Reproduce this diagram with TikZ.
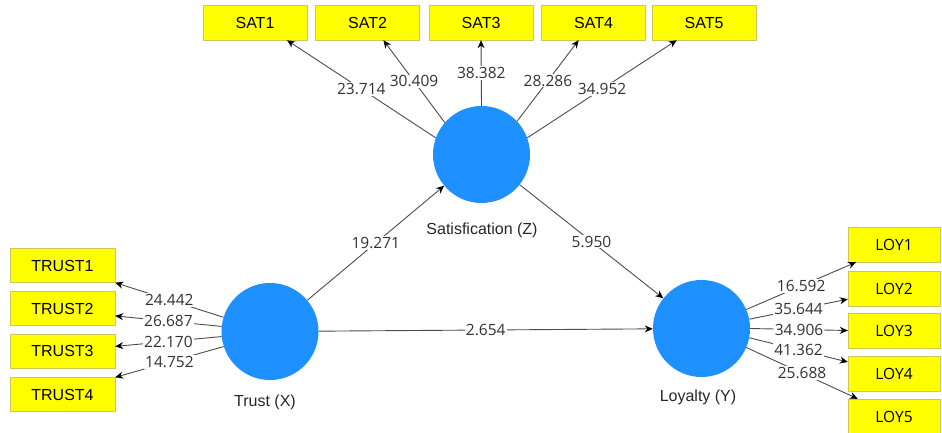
\documentclass[tikz,border=0pt]{standalone}
\usepackage{fontspec}
\setmainfont{Liberation Sans}
\newfontfamily\segoelike{Open Sans}
\usetikzlibrary{arrows.meta, positioning}
\definecolor{lvblue}{RGB}{30,144,255}
\definecolor{mvyellow}{RGB}{255,255,0}
\tikzset{
    latent/.style={
        circle,
        fill=lvblue,
        draw=none,
        minimum size=97pt,
        inner sep=0pt
    },
    indicator/.style={
        rectangle,
        draw=yellow!55!gray,
        fill=mvyellow,
        minimum width=104pt,
        minimum height=35pt,
        font=\fontsize{16}{18}\selectfont
    },
    loading/.style={
        draw=black!70,
        line width=0.9pt,
        -{Stealth[length=8pt, width=7pt, black]}
    },
    tvalue/.style={
        fill=white,
        inner sep=1pt,
        text=black!80,
        font=\segoelike\fontsize{15.5}{17}\selectfont
    },
    lvname/.style={
        text=black!85,
        font=\fontsize{16}{18}\selectfont
    }
}

\begin{document}
\begin{tikzpicture}[x=1pt, y=-1pt]
\useasboundingbox (0,0) rectangle (942,433);

% Latent variables
\node[latent] (trust) at (270,331.5) {};
\node[latent] (sat) at (481.5,154.5) {};
\node[latent] (loy) at (701.5,328.5) {};
\node[lvname] (trustname) at (265,402) {Trust (X)};
\node[lvname] (satname) at (482,230) {Satisfication (Z)};
\node[lvname] (loyname) at (698,397) {Loyalty (Y)};

% Satisfaction indicators
\node[indicator] (sat1) at (255,22.5) {SAT1};
\node[indicator] (sat2) at (367.5,22.5) {SAT2};
\node[indicator] (sat3) at (481,22.5) {SAT3};
\node[indicator] (sat4) at (593.5,22.5) {SAT4};
\node[indicator] (sat5) at (704,22.5) {SAT5};

% Trust indicators
\node[indicator, minimum width=105pt, minimum height=34pt] (trust1) at (62.5,265.5) {TRUST1};
\node[indicator, minimum width=105pt, minimum height=34pt] (trust2) at (62.5,308.5) {TRUST2};
\node[indicator, minimum width=105pt, minimum height=34pt] (trust3) at (62.5,351) {TRUST3};
\node[indicator, minimum width=105pt, minimum height=34pt] (trust4) at (62.5,394.5) {TRUST4};

% Loyalty indicators
\node[indicator, minimum width=92pt, font=\segoelike\fontsize{15.5}{17}\selectfont] (loy1) at (894,244.5) {LOY1};
\node[indicator, minimum width=92pt, font=\segoelike\fontsize{15.5}{17}\selectfont] (loy2) at (894,288.5) {LOY2};
\node[indicator, minimum width=92pt, font=\segoelike\fontsize{15.5}{17}\selectfont] (loy3) at (894,330.5) {LOY3};
\node[indicator, minimum width=92pt, font=\segoelike\fontsize{15.5}{17}\selectfont] (loy4) at (894,373.5) {LOY4};
\node[indicator, minimum width=92pt, font=\segoelike\fontsize{15.5}{17}\selectfont] (loy5) at (894,416.5) {LOY5};

% Outer loadings
\draw[loading] (sat.160) -- node[tvalue] {23.714} (sat1.-29);
\draw[loading] (sat.139) -- node[tvalue] {30.409} (sat2.-48);
\draw[loading] (sat.90) -- node[tvalue] {38.382} (sat3.south);
\draw[loading] (sat.43) -- node[tvalue] {28.286} (sat4.-130);
\draw[loading] (sat.20) -- node[tvalue] {34.952} (sat5.-147);

\draw[loading] (trust.163) -- node[tvalue] {24.442} (trust1.south east);
\draw[loading] (trust.174) -- node[tvalue] {26.687} (trust2.-8);
\draw[loading] (trust.186) -- node[tvalue] {22.170} (trust3.5);
\draw[loading] (trust.198) -- node[tvalue] {14.752} (trust4.north east);

\draw[loading] (loy.23) -- node[tvalue] {16.592} (loy1.-155);
\draw[loading] (loy.11) -- node[tvalue] {35.644} (loy2.-167);
\draw[loading] (loy.0) -- node[tvalue] {34.906} (loy3.west);
\draw[loading] (loy.-11) -- node[tvalue] {41.362} (loy4.166);
\draw[loading] (loy.-23) -- node[tvalue] {25.688} (loy5.154);

% Inner model
\draw[loading] (trust) -- node[tvalue] {19.271} (sat);
\draw[loading] (sat) -- node[tvalue] {5.950} (loy);
\draw[loading] (trust) -- node[tvalue] {2.654} (loy);

\end{tikzpicture}
\end{document}
